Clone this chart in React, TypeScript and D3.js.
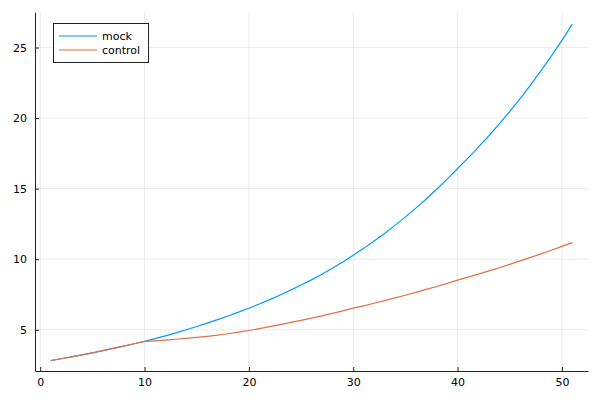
import React from 'react';
import { scaleLinear, select, line, axisLeft, axisBottom } from 'd3';

const xs = [
  1, 2, 3, 4, 5, 6, 7, 8, 9, 10, 11, 12, 13, 14, 15, 16, 17, 18, 19, 20, 21, 22, 23, 24, 25, 26,
  27, 28, 29, 30, 31, 32, 33, 34, 35, 36, 37, 38, 39, 40, 41, 42, 43, 44, 45, 46, 47, 48, 49, 50, 51,
];

const mock = [
  2.82, 2.95, 3.08, 3.22, 3.37, 3.52, 3.68, 3.84, 4.01, 4.18,
  4.37, 4.57, 4.78, 5.0, 5.23, 5.47, 5.72, 5.98, 6.25, 6.53,
  6.83, 7.14, 7.47, 7.81, 8.17, 8.54, 8.93, 9.36, 9.8, 10.28,
  10.77, 11.29, 11.83, 12.4, 13.0, 13.62, 14.27, 14.96, 15.68, 16.43,
  17.17, 17.94, 18.75, 19.59, 20.47, 21.39, 22.35, 23.36, 24.41, 25.51, 26.66,
];

const control = [
  2.82, 2.95, 3.08, 3.22, 3.37, 3.52, 3.68, 3.84, 4.01, 4.18,
  4.22, 4.27, 4.33, 4.39, 4.46, 4.54, 4.62, 4.72, 4.83, 4.95,
  5.08, 5.22, 5.37, 5.52, 5.67, 5.83, 5.99, 6.16, 6.34, 6.53,
  6.7, 6.88, 7.07, 7.26, 7.45, 7.65, 7.86, 8.07, 8.29, 8.52,
  8.73, 8.95, 9.17, 9.4, 9.64, 9.88, 10.13, 10.38, 10.64, 10.91, 11.18,
];

const xTicks = [0, 10, 20, 30, 40, 50];
const yTicks = [5, 10, 15, 20, 25];
const seriesNames = ['mock', 'control'];
const seriesColors = ['#009AFA', '#E36F47'];

const dims = {
  width: 600,
  height: 400,
  left: 35,
  right: 588,
  top: 12,
  bottom: 371,
};

const FONT = 'DejaVu Sans, sans-serif';

const Chart: React.FC = () => {
  const ref = React.useRef<SVGSVGElement>(null);

  React.useEffect(() => {
    const svg = select(ref.current);
    svg.selectAll('*').remove();

    const x = scaleLinear().domain([-0.5, 52.5]).range([dims.left, dims.right]);
    const y = scaleLinear().domain([2.08, 27.52]).range([dims.bottom, dims.top]);

    // grid
    const grid = svg.append('g');
    grid.selectAll('line.vx').data(xTicks).enter().append('line')
      .attr('x1', d => x(d)).attr('x2', d => x(d))
      .attr('y1', dims.top).attr('y2', dims.bottom)
      .attr('stroke', '#000').attr('stroke-opacity', 0.08).attr('stroke-width', 1);
    grid.selectAll('line.hy').data(yTicks).enter().append('line')
      .attr('x1', dims.left).attr('x2', dims.right)
      .attr('y1', d => y(d)).attr('y2', d => y(d))
      .attr('stroke', '#000').attr('stroke-opacity', 0.08).attr('stroke-width', 1);

    // series
    const series = [mock, control];
    const path = line<number>().x((_, i) => x(xs[i])).y(d => y(d));
    series.forEach((s, i) => {
      svg.append('path')
        .attr('d', path(s))
        .attr('fill', 'none')
        .attr('stroke', seriesColors[i])
        .attr('stroke-width', 1.2);
    });

    // axes
    const yAxis = axisLeft(y).tickValues(yTicks).tickSizeInner(-4).tickSizeOuter(0).tickPadding(8);
    const xAxis = axisBottom(x).tickValues(xTicks).tickSizeInner(-4).tickSizeOuter(0).tickPadding(8);

    const yg = svg.append('g').attr('transform', `translate(${dims.left},0)`).call(yAxis);
    const xg = svg.append('g').attr('transform', `translate(0,${dims.bottom})`).call(xAxis);
    [yg, xg].forEach(g => {
      g.selectAll('path').attr('stroke', '#222').attr('stroke-width', 1);
      g.selectAll('line').attr('stroke', '#222').attr('stroke-width', 1);
      g.selectAll('text').attr('font-family', FONT).attr('font-size', 11).attr('fill', '#000');
    });
    xg.selectAll('text').attr('dy', '0.71em').attr('y', 7);

    // legend
    const lg = svg.append('g');
    lg.append('rect')
      .attr('x', 53.5).attr('y', 23.5).attr('width', 95).attr('height', 39)
      .attr('fill', '#fff').attr('stroke', '#222').attr('stroke-width', 1);
    seriesNames.forEach((name, i) => {
      const ly = 36 + i * 14;
      lg.append('line')
        .attr('x1', 59).attr('x2', 97).attr('y1', ly).attr('y2', ly)
        .attr('stroke', seriesColors[i]).attr('stroke-width', 1.2);
      lg.append('text')
        .attr('x', 102).attr('y', ly).attr('dy', '0.35em')
        .attr('font-family', FONT).attr('font-size', 11).attr('fill', '#000')
        .text(name);
    });
  }, []);

  return (
    <svg
      ref={ref}
      width={dims.width}
      height={dims.height}
      style={{ position: 'absolute', left: 0, top: 0, background: '#fff' }}
    />
  );
};

export default function App() {
  return <Chart />;
}
